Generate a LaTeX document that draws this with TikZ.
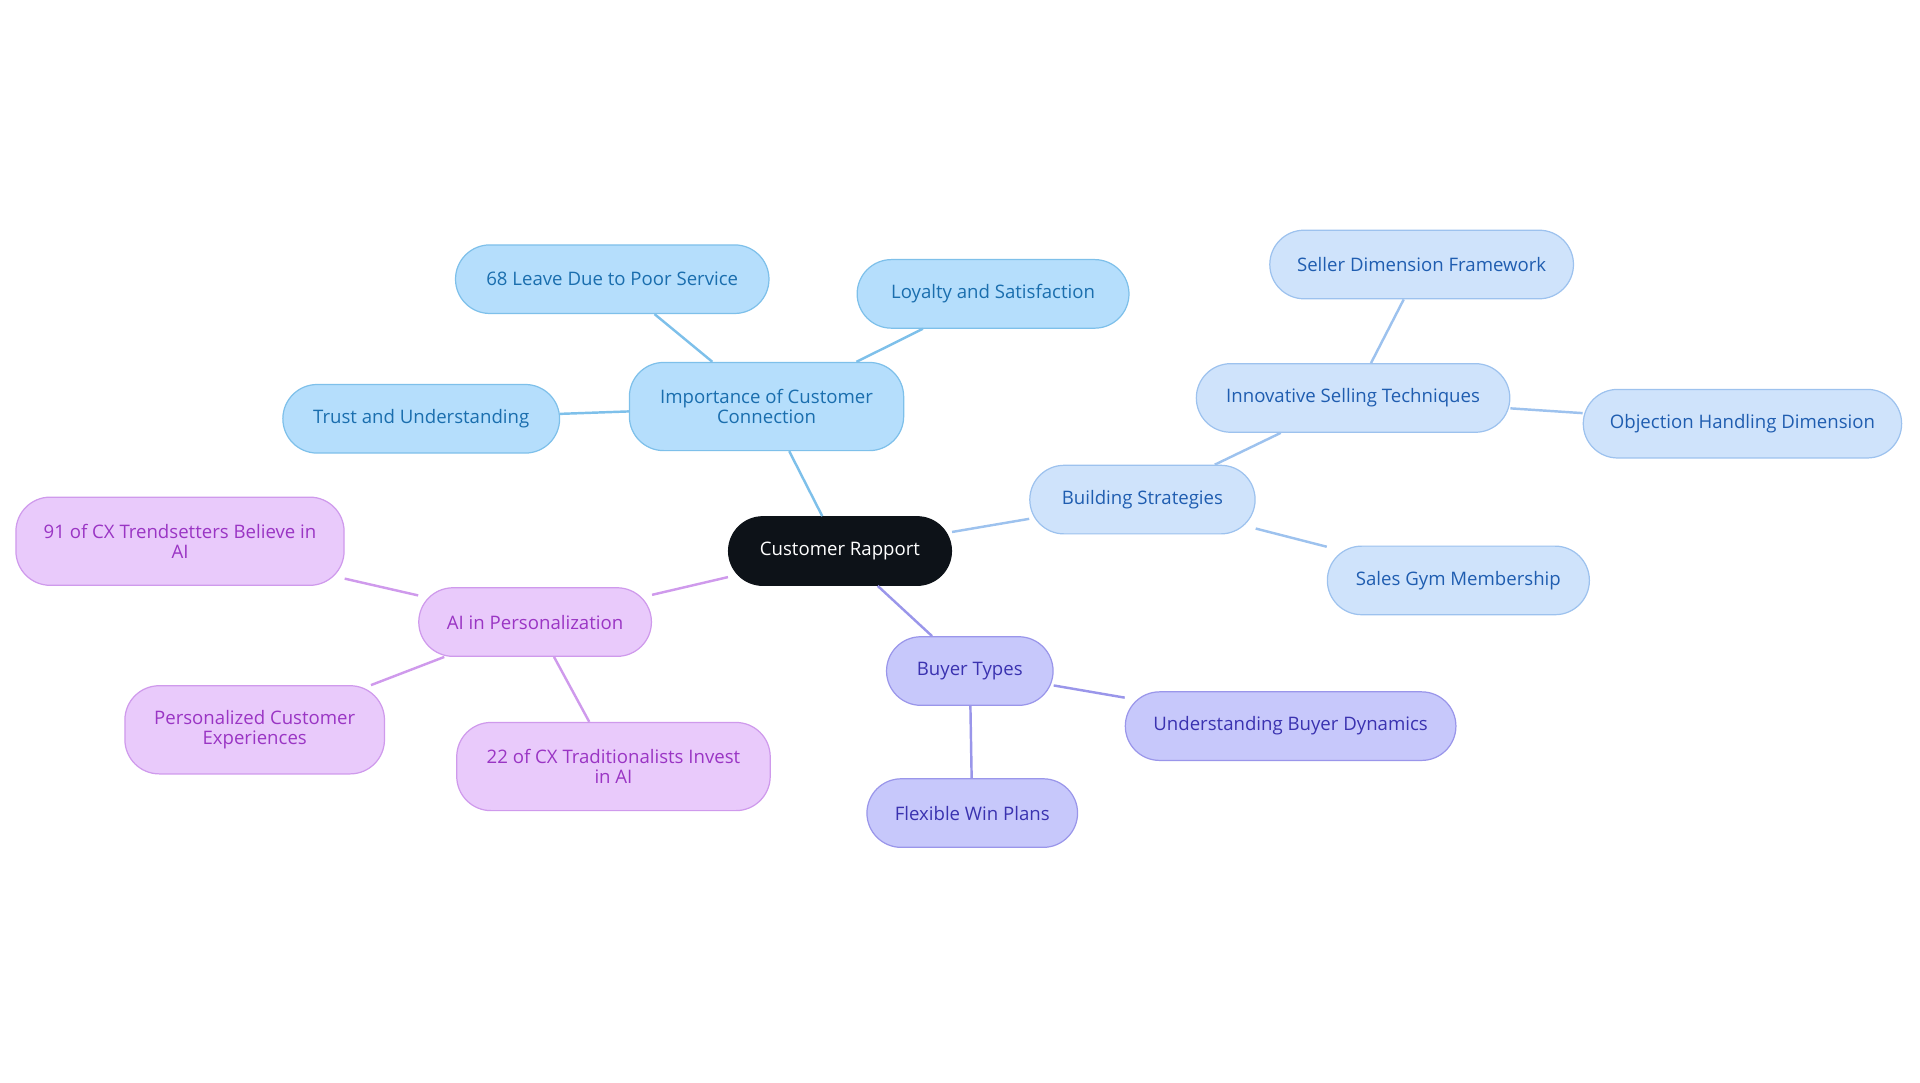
\documentclass[tikz,border=0pt]{standalone}
\usepackage{fontspec}
\setmainfont{Open Sans}
\begin{document}
\begin{tikzpicture}[x=0.5pt,y=-0.5pt,
 base/.style={rounded corners=14pt,align=center,font=\fontsize{7.6}{8}\selectfont,inner sep=0pt,line width=0.5pt},
 c1/.style={base,fill=cyanf,draw=cyand,text=cyant},
 c2/.style={base,fill=bluef,draw=blued,text=bluet},
 c3/.style={base,fill=indf,draw=indd,text=indt},
 c4/.style={base,fill=purf,draw=purd,text=purt},
 e1/.style={draw=cyand,line width=1pt},
 e2/.style={draw=blued,line width=1pt},
 e3/.style={draw=indd,line width=1pt},
 e4/.style={draw=purd,line width=1pt}]
\definecolor{cyanf}{HTML}{B5DEFC}\definecolor{cyand}{HTML}{7EC0EA}\definecolor{cyant}{HTML}{1A6EAE}
\definecolor{bluef}{HTML}{CFE3FB}\definecolor{blued}{HTML}{9DC2EE}\definecolor{bluet}{HTML}{1F5DB0}
\definecolor{indf}{HTML}{C7C8FB}\definecolor{indd}{HTML}{9A96EA}\definecolor{indt}{HTML}{3A32B0}
\definecolor{purf}{HTML}{E9CAFB}\definecolor{purd}{HTML}{CF9AEC}\definecolor{purt}{HTML}{9A35C4}
\definecolor{rootf}{HTML}{0D1218}
\useasboundingbox (0,0) rectangle (1568,884);
\node[base,fill=rootf,draw=rootf,text=white,minimum width=91pt,minimum height=28pt] (root) at (686,450) {Customer Rapport};
\node[c1,minimum width=112pt,minimum height=36pt] (imp) at (626,332) {Importance of Customer\\Connection};
\node[c1,minimum width=111pt,minimum height=28pt] (loyal) at (811,240) {Loyalty and Satisfaction};
\node[c1,minimum width=128pt,minimum height=28pt] (leave) at (500,228) {68 Leave Due to Poor Service};
\node[c1,minimum width=113pt,minimum height=28pt] (trust) at (344,342) {Trust and Understanding};
\node[c2,minimum width=92pt,minimum height=28pt] (build) at (933,408) {Building Strategies};
\node[c2,minimum width=128pt,minimum height=28pt] (innov) at (1105,325) {Innovative Selling Techniques};
\node[c2,minimum width=124pt,minimum height=28pt] (seller) at (1161,216) {Seller Dimension Framework};
\node[c2,minimum width=130pt,minimum height=28pt] (obj) at (1423,346) {Objection Handling Dimension};
\node[c2,minimum width=107pt,minimum height=28pt] (gym) at (1191,474) {Sales Gym Membership};
\node[c3,minimum width=68pt,minimum height=28pt] (buyer) at (792,548) {Buyer Types};
\node[c3,minimum width=135pt,minimum height=28pt] (under) at (1054,593) {Understanding Buyer Dynamics};
\node[c3,minimum width=86pt,minimum height=28pt] (flex) at (794,664) {Flexible Win Plans};
\node[c4,minimum width=95pt,minimum height=28pt] (ai) at (437,508) {AI in Personalization};
\node[c4,minimum width=134pt,minimum height=36pt] (cx91) at (147,442) {91 of CX Trendsetters Believe in\\AI};
\node[c4,minimum width=106pt,minimum height=36pt] (pers) at (208,596) {Personalized Customer\\Experiences};
\node[c4,minimum width=128pt,minimum height=36pt] (cx22) at (501,626) {22 of CX Traditionalists Invest\\in AI};
\begin{scope}[on background layer/.style={}]
\end{scope}
\path[e1] (root) -- (imp);
\path[e1] (imp) -- (loyal);
\path[e1] (imp) -- (leave);
\path[e1] (imp) -- (trust);
\path[e2] (root) -- (build);
\path[e2] (build) -- (innov);
\path[e2] (innov) -- (seller);
\path[e2] (innov) -- (obj);
\path[e2] (build) -- (gym);
\path[e3] (root) -- (buyer);
\path[e3] (buyer) -- (under);
\path[e3] (buyer) -- (flex);
\path[e4] (root) -- (ai);
\path[e4] (ai) -- (cx91);
\path[e4] (ai) -- (pers);
\path[e4] (ai) -- (cx22);
\end{tikzpicture}
\end{document}
